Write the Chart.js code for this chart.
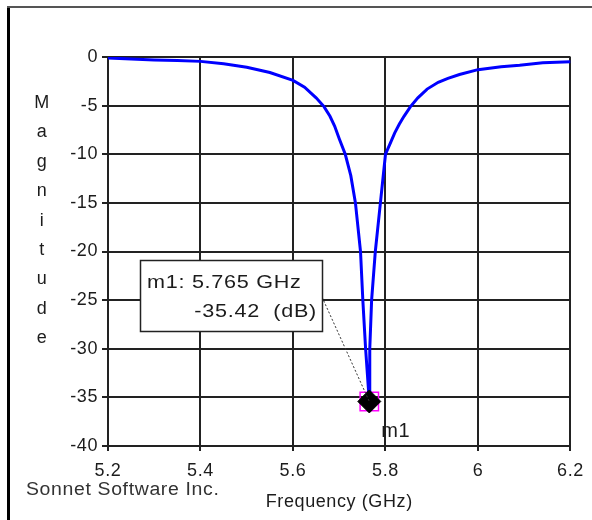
<!DOCTYPE html>
<html>
<head>
<meta charset="utf-8">
<script src="https://cdn.jsdelivr.net/npm/chart.js@4/dist/chart.umd.min.js"></script>
<style>
  body { margin: 0; background: #fff; }
  canvas { display: block; }
</style>
</head>
<body>
<canvas id="sweepChart" width="592" height="520"></canvas>
<script>
// S-parameter sweep (GHz / dB)
const freqGHz = [
    5.20, 5.25, 5.30, 5.35, 5.40, 5.45, 5.50, 5.55, 5.60, 5.625, 5.65,
    5.667, 5.68, 5.69, 5.70, 5.713, 5.725, 5.735, 5.746, 5.751, 5.757, 5.765,
    5.766, 5.770, 5.778, 5.789, 5.80, 5.81, 5.82, 5.83, 5.84, 5.854, 5.87,
    5.89, 5.914, 5.935, 5.96, 6.00, 6.05, 6.09, 6.14, 6.20
];
const magDB = [
    -0.1, -0.2, -0.3, -0.35, -0.45, -0.7, -1.05, -1.6, -2.4, -3.1, -4.2,
    -5.1, -6.1, -7.1, -8.4, -10.0, -12.2, -15.0, -20.0, -25.0, -30.0, -35.42,
    -30.0, -25.0, -20.0, -15.0, -10.0, -8.9, -7.8, -6.9, -6.1, -5.1, -4.2,
    -3.3, -2.6, -2.2, -1.8, -1.3, -1.0, -0.85, -0.6, -0.5
];

const xTickValues = [5.2, 5.4, 5.6, 5.8, 6.0, 6.2];
const xTickLabels = ['5.2', '5.4', '5.6', '5.8', '6', '6.2'];
const yTickValues = [0, -5, -10, -15, -20, -25, -30, -35, -40];

const markerName = 'm1';
const markerFreq = 5.765;
const markerMag = -35.42;

const yTitle = 'Magnitude';
const xTitle = 'Frequency (GHz)';
const credit = 'Sonnet Software Inc.';

const textFont = '"Liberation Sans", Arial, sans-serif';
const textColor = '#1c1c1c';

// frame, stacked y title, credit line and the marker readout box
const decorPlugin = {
    id: 'decor',
    beforeDraw(chart) {
        const ctx = chart.ctx;
        ctx.save();
        ctx.fillStyle = '#fff';
        ctx.fillRect(0, 0, chart.width, chart.height);
        ctx.fillStyle = '#000';
        ctx.fillRect(7, 6, 3, chart.height - 6);
        ctx.fillStyle = '#555';
        ctx.fillRect(7, 6, chart.width - 7, 2);
        ctx.restore();
        // the old plot font runs wide, spread the letters a little
        ctx.letterSpacing = '0.6px';
    },
    afterDraw(chart) {
        const ctx = chart.ctx;
        const xs = chart.scales.x;
        const ys = chart.scales.y;
        const mx = xs.getPixelForValue(markerFreq);
        const my = ys.getPixelForValue(markerMag);

        ctx.save();
        ctx.fillStyle = textColor;
        ctx.font = '18px ' + textFont;
        ctx.textBaseline = 'middle';

        // vertical stacked letters
        ctx.textAlign = 'center';
        yTitle.split('').forEach((ch, i) => {
            ctx.fillText(ch, 42, 103 + i * 29.4);
        });

        // credit
        ctx.textAlign = 'left';
        ctx.fillStyle = '#333';
        ctx.save();
        ctx.translate(26, 490);
        ctx.scale(1.08, 1);
        ctx.fillText(credit, 0, 0);
        ctx.restore();

        // leader line from box to marker
        const box = { left: 140, top: 260, right: 322, bottom: 331 };
        ctx.strokeStyle = '#333';
        ctx.lineWidth = 1;
        ctx.setLineDash([2, 2]);
        ctx.beginPath();
        ctx.moveTo(box.right, 297);
        ctx.lineTo(mx, my);
        ctx.stroke();
        ctx.setLineDash([]);

        // readout box
        ctx.fillStyle = '#fff';
        ctx.fillRect(box.left, box.top, box.right - box.left, box.bottom - box.top);
        ctx.strokeStyle = '#222';
        ctx.lineWidth = 1.5;
        ctx.strokeRect(box.left + 0.5, box.top + 0.5, box.right - box.left, box.bottom - box.top);

        ctx.fillStyle = textColor;
        ctx.save();
        ctx.translate(147, 283);
        ctx.scale(1.2, 1);
        ctx.textAlign = 'left';
        ctx.fillText(markerName + ': ' + markerFreq.toFixed(3) + ' GHz', 0, 0);
        ctx.restore();
        ctx.save();
        ctx.translate(317, 312);
        ctx.scale(1.2, 1);
        ctx.textAlign = 'right';
        ctx.fillText(markerMag.toFixed(2) + '  (dB)', 0, 0);
        ctx.restore();

        // marker label
        ctx.textAlign = 'left';
        ctx.font = '20px ' + textFont;
        ctx.fillText(markerName, mx + 12, my + 30);
        ctx.restore();
        // don't let the spacing leak into the next layout pass
        ctx.letterSpacing = '0px';
    }
};

new Chart(document.getElementById('sweepChart').getContext('2d'), {
    type: 'line',
    data: {
        datasets: [
            {
                label: 'marker box',
                data: [{ x: markerFreq, y: markerMag }],
                showLine: false,
                pointStyle: 'rect',
                pointRadius: 13,
                pointBackgroundColor: 'rgba(0,0,0,0)',
                pointBorderColor: '#ff00ff',
                pointBorderWidth: 1.5,
                order: 2
            },
            {
                label: 'marker',
                data: [{ x: markerFreq, y: markerMag }],
                showLine: false,
                pointStyle: 'rectRot',
                pointRadius: 11.5,
                pointBackgroundColor: '#000',
                pointBorderColor: '#000',
                pointBorderWidth: 1,
                order: 0
            },
            {
                label: 'S11',
                data: freqGHz.map((f, i) => ({ x: f, y: magDB[i] })),
                borderColor: '#0000ff',
                borderWidth: 3,
                pointRadius: 0,
                tension: 0,
                fill: false,
                order: 1
            }
        ]
    },
    options: {
        responsive: false,
        animation: false,
        layout: { padding: { top: 57, right: 20, left: 0, bottom: 0 } },
        plugins: {
            legend: { display: false },
            tooltip: { enabled: false }
        },
        scales: {
            x: {
                type: 'linear',
                min: 5.2,
                max: 6.2,
                afterBuildTicks: scale => {
                    scale.ticks = xTickValues.map(v => ({ value: v }));
                },
                afterFit: scale => { scale.height = 74; },
                grid: { color: '#222', lineWidth: 2, tickLength: 5 },
                border: { color: '#222', width: 2 },
                ticks: {
                    color: textColor,
                    font: { family: textFont, size: 18 },
                    padding: 9,
                    maxRotation: 0,
                    callback: (v, i) => xTickLabels[i]
                },
                title: {
                    display: true,
                    text: xTitle,
                    color: textColor,
                    font: { family: textFont, size: 18 },
                    padding: { top: 0, bottom: 7 }
                }
            },
            y: {
                type: 'linear',
                min: -40,
                max: 0,
                afterBuildTicks: scale => {
                    scale.ticks = yTickValues.map(v => ({ value: v }));
                },
                afterFit: scale => { scale.width = 108; },
                grid: { color: '#222', lineWidth: 2, tickLength: 6 },
                border: { color: '#222', width: 2 },
                ticks: {
                    color: textColor,
                    font: { family: textFont, size: 18 },
                    padding: 4
                }
            }
        }
    },
    plugins: [decorPlugin]
});
</script>
</body>
</html>
